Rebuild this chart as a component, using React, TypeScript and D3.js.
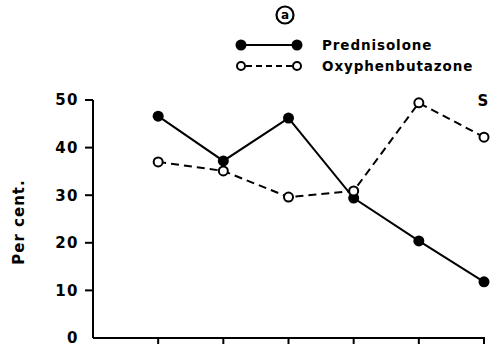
import React, { useEffect, useRef } from "react";
import * as d3 from "d3";

const xPositions = [1, 2, 3, 4, 5, 6];
const prednisolone = [46.6, 37.2, 46.2, 29.4, 20.4, 11.8];
const oxyphenbutazone = [37.0, 35.1, 29.6, 30.9, 49.4, 42.2];
const yTicks = [0, 10, 20, 30, 40, 50];
const xTicks = [1, 2, 3, 4, 5, 6];
const seriesNames = ["Prednisolone", "Oxyphenbutazone"];

const W = 490;
const H = 351;
const FONT = "'DejaVu Sans', sans-serif";

export default function App() {
  const ref = useRef<SVGSVGElement>(null);
  useEffect(() => {
    const svg = d3.select(ref.current);
    svg.selectAll("*").remove();
    const x = d3.scaleLinear().domain([0, 6]).range([93, 484]);
    const y = d3.scaleLinear().domain([0, 50]).range([338, 100]);

    const g = svg.append("g");
    // axes
    g.append("line").attr("x1", x(0)).attr("x2", x(0)).attr("y1", y(50)).attr("y2", y(0))
      .attr("stroke", "#000").attr("stroke-width", 2);
    g.append("line").attr("x1", x(0)).attr("x2", x(6) + 1).attr("y1", y(0)).attr("y2", y(0))
      .attr("stroke", "#000").attr("stroke-width", 2);
    yTicks.forEach((t) => {
      if (t > 0)
        g.append("line").attr("x1", x(0) - 8).attr("x2", x(0)).attr("y1", y(t)).attr("y2", y(t))
          .attr("stroke", "#000").attr("stroke-width", 2);
      g.append("text").attr("x", 79).attr("y", y(t)).attr("dy", "0.36em")
        .attr("text-anchor", "end").attr("font-family", FONT).attr("font-weight", "bold")
        .attr("font-size", 15).attr("letter-spacing", 1.5).text(String(t));
    });
    xTicks.forEach((t) => {
      g.append("line").attr("x1", x(t)).attr("x2", x(t)).attr("y1", y(0)).attr("y2", y(0) + 6)
        .attr("stroke", "#000").attr("stroke-width", 2);
    });

    // y label
    g.append("text").attr("transform", `translate(24,${222}) rotate(-90)`)
      .attr("text-anchor", "middle").attr("font-family", FONT).attr("font-weight", "bold")
      .attr("font-size", 15).attr("letter-spacing", 1).text("Per cent.");

    const line = d3.line<number>().x((d, i) => x(xPositions[i])).y((d) => y(d));

    g.append("path").attr("d", line(oxyphenbutazone) || "").attr("fill", "none")
      .attr("stroke", "#000").attr("stroke-width", 2).attr("stroke-dasharray", "8,5");
    g.append("path").attr("d", line(prednisolone) || "").attr("fill", "none")
      .attr("stroke", "#000").attr("stroke-width", 2);

    prednisolone.forEach((v, i) => {
      g.append("circle").attr("cx", x(xPositions[i])).attr("cy", y(v)).attr("r", 5.5).attr("fill", "#000");
    });
    oxyphenbutazone.forEach((v, i) => {
      g.append("circle").attr("cx", x(xPositions[i])).attr("cy", y(v)).attr("r", 4.5)
        .attr("fill", "#fff").attr("stroke", "#000").attr("stroke-width", 2);
    });

    // legend
    const lx1 = 241, lx2 = 297, ly1 = 45, ly2 = 66;
    g.append("line").attr("x1", lx1).attr("x2", lx2).attr("y1", ly1).attr("y2", ly1)
      .attr("stroke", "#000").attr("stroke-width", 2);
    g.append("circle").attr("cx", lx1).attr("cy", ly1).attr("r", 5.5).attr("fill", "#000");
    g.append("circle").attr("cx", lx2).attr("cy", ly1).attr("r", 5.5).attr("fill", "#000");
    g.append("line").attr("x1", lx1 + 5).attr("x2", lx2 - 5).attr("y1", ly2).attr("y2", ly2)
      .attr("stroke", "#000").attr("stroke-width", 2).attr("stroke-dasharray", "6,4");
    g.append("circle").attr("cx", lx1).attr("cy", ly2).attr("r", 4).attr("fill", "#fff")
      .attr("stroke", "#000").attr("stroke-width", 2);
    g.append("circle").attr("cx", lx2).attr("cy", ly2).attr("r", 4).attr("fill", "#fff")
      .attr("stroke", "#000").attr("stroke-width", 2);
    [ly1, ly2].forEach((ly, i) => {
      g.append("text").attr("x", 322).attr("y", ly).attr("dy", "0.36em")
        .attr("font-family", FONT).attr("font-weight", "bold").attr("font-size", 13.5)
        .attr("letter-spacing", 0.9).text(seriesNames[i]);
    });

    // panel mark
    g.append("circle").attr("cx", 285).attr("cy", 15).attr("r", 8.5).attr("fill", "none")
      .attr("stroke", "#000").attr("stroke-width", 2.2);
    g.append("text").attr("x", 285).attr("y", 15).attr("dy", "0.33em").attr("text-anchor", "middle")
      .attr("font-family", FONT).attr("font-weight", "bold").attr("font-size", 12).text("a");

    g.append("text").attr("x", 483).attr("y", 101).attr("dy", "0.36em").attr("text-anchor", "middle")
      .attr("font-family", FONT).attr("font-weight", "bold").attr("font-size", 15).text("S");
  }, []);
  return (
    <svg ref={ref} width={W} height={H} style={{ position: "absolute", left: 0, top: 0, background: "#fff" }} />
  );
}
